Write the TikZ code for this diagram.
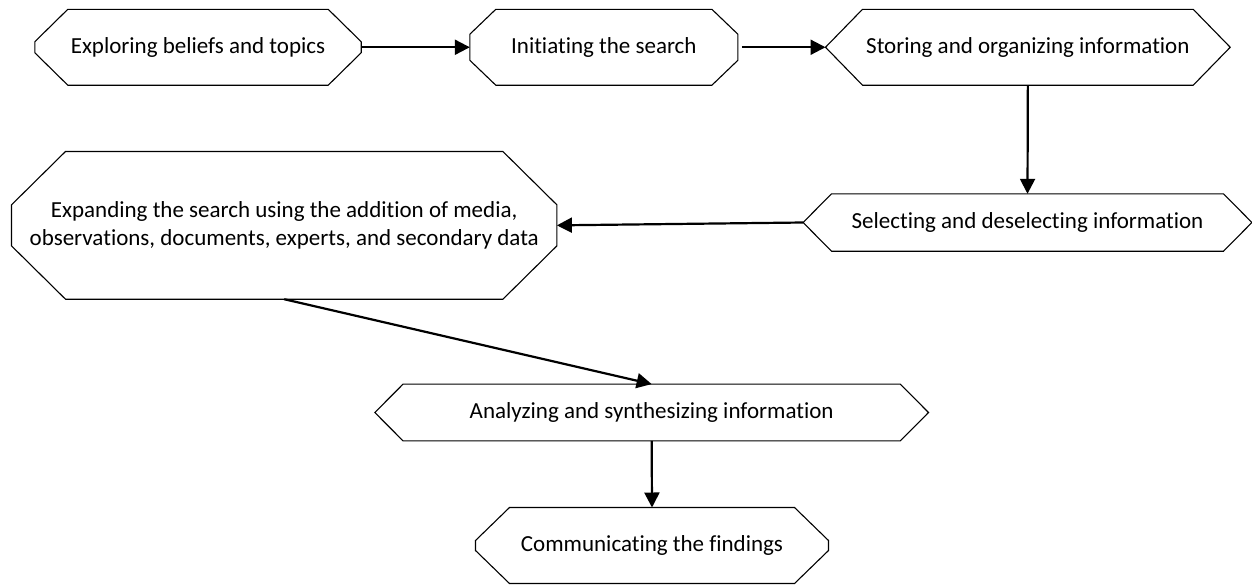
\documentclass[tikz,border=0pt]{standalone}
\usepackage{fontspec}
\setmainfont[Ligatures=NoCommon]{Carlito}
\usetikzlibrary{arrows.meta}
\tikzset{
  boxtext/.style={inner sep=0pt, align=center, font=\fontsize{23}{27.5}\selectfont},
  boxline/.style={draw=black, line width=1.1pt, line join=miter},
  flow/.style={-{Triangle[length=15pt,width=15pt]}, line width=2.2pt},
}
\newcommand\octbox[3]{\draw[boxline] ([xshift=#2pt]#1.north west) -- ([xshift=-#2pt]#1.north east) -- ([yshift=#3pt]#1.east) -- ([yshift=-#3pt]#1.east) -- ([xshift=-#2pt]#1.south east) -- ([xshift=#2pt]#1.south west) -- ([yshift=-#3pt]#1.west) -- ([yshift=#3pt]#1.west) -- cycle;}
\begin{document}
\begin{tikzpicture}[x=1pt,y=-1pt]
\fill[white] (0,0) rectangle (1252,584);
\useasboundingbox (0,0) rectangle (1252,584);

\node[boxtext, minimum width=326pt, minimum height=75.5pt] (b1) at (198,47.25) {Exploring beliefs and topics};
\node[boxtext, minimum width=267.7pt, minimum height=75.5pt] (b2) at (603.85,47.25) {Initiating the search};
\node[boxtext, minimum width=404.3pt, minimum height=75.5pt] (b3) at (1027.85,47.25) {Storing and organizing information};
\node[boxtext, minimum width=448.4pt, minimum height=57pt] (b4) at (1027.5,222.5) {Selecting and deselecting information};
\node[boxtext, minimum width=545pt, minimum height=147.3pt] (b5) at (284.2,225.35) {Expanding the search using the addition of media,\\observations, documents, experts, and secondary data};
\node[boxtext, minimum width=553.3pt, minimum height=56.4pt] (b6) at (651.65,412.5) {Analyzing and synthesizing information};
\node[boxtext, minimum width=352.6pt, minimum height=75.6pt] (b7) at (652,545.5) {Communicating the findings};

\octbox{b1}{33}{5.5}
\octbox{b2}{26}{13}
\octbox{b3}{37}{0}
\octbox{b4}{28.4}{0}
\octbox{b5}{54}{20.5}
\octbox{b6}{28.3}{0}
\octbox{b7}{34}{5}

\draw[flow] (b1.east) -- (b2.west);
\draw[flow, shorten <=4pt] (b2.east) -- (b3.west);
\draw[flow] (b3.south) -- (b4.north);
\draw[flow] (b4.west) -- (b5.east);
\draw[flow] (b5.south) -- (b6.north);
\draw[flow] (b6.south) -- (b7.north);
\end{tikzpicture}
\end{document}
